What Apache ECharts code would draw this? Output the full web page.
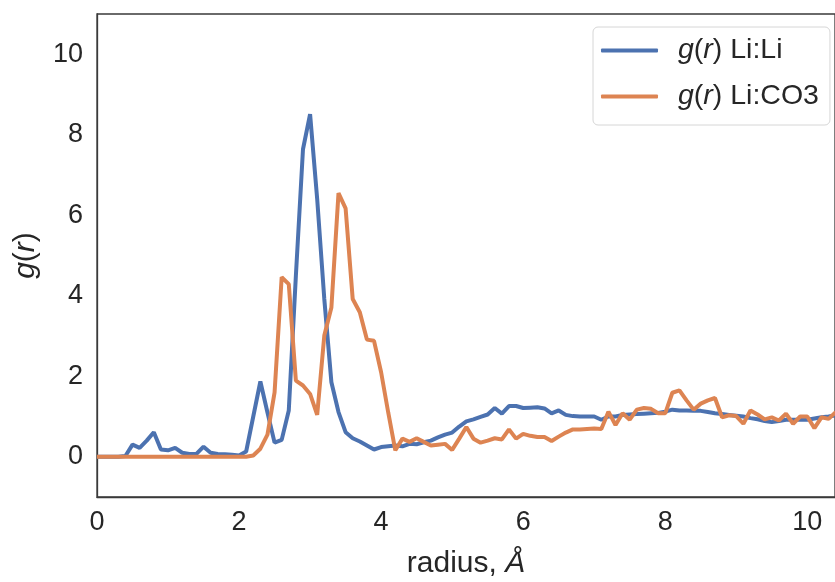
<!DOCTYPE html>
<html>
<head>
<meta charset="utf-8">
<script src="https://cdn.jsdelivr.net/npm/echarts@6/dist/echarts.min.js"></script>
<style>html,body{margin:0;padding:0;background:#fff}#c{width:835px;height:582px}</style>
</head>
<body>
<div id="c"></div>
<script>
var radius = [0.0,0.1,0.2,0.3,0.4,0.5,0.6,0.7,0.8,0.9,1.0,1.1,1.2,1.3,1.4,1.5,1.6,1.7,1.8,1.9,
2.0,2.1,2.2,2.3,2.4,2.5,2.6,2.7,2.8,2.9,3.0,3.1,3.2,3.3,3.4,3.5,3.6,3.7,3.8,3.9,
4.0,4.1,4.2,4.3,4.4,4.5,4.6,4.7,4.8,4.9,5.0,5.1,5.2,5.3,5.4,5.5,5.6,5.7,5.8,5.9,
6.0,6.1,6.2,6.3,6.4,6.5,6.6,6.7,6.8,6.9,7.0,7.1,7.2,7.3,7.4,7.5,7.6,7.7,7.8,7.9,
8.0,8.1,8.2,8.3,8.4,8.5,8.6,8.7,8.8,8.9,9.0,9.1,9.2,9.3,9.4,9.5,9.6,9.7,9.8,9.9,
10.0,10.1,10.2,10.3,10.4];
var gLiLi = [0,0,0,0,0.02,0.3,0.22,0.4,0.61,0.18,0.16,0.22,0.1,0.07,0.07,0.25,0.1,0.07,0.06,0.05,
0.03,0.13,1.0,1.87,1.1,0.35,0.42,1.15,4.5,7.64,8.51,6.4,3.92,1.85,1.11,0.61,0.46,0.38,0.28,0.18,
0.24,0.26,0.28,0.26,0.32,0.31,0.36,0.4,0.48,0.55,0.6,0.75,0.88,0.93,0.99,1.05,1.21,1.07,1.26,1.26,
1.21,1.22,1.23,1.2,1.08,1.15,1.04,1.01,1.0,1.0,1.0,0.92,1.0,1.0,1.04,1.05,1.06,1.07,1.08,1.09,
1.12,1.17,1.15,1.15,1.14,1.14,1.11,1.08,1.06,1.04,1.02,1.0,0.96,0.93,0.89,0.86,0.89,0.92,0.92,0.92,
0.92,0.95,0.98,1.0,1.03];
var gLiCO3 = [0,0,0,0,0,0,0,0,0,0,0,0,0,0,0,0,0,0,0,0,
0,0,0.03,0.2,0.55,1.6,4.46,4.29,1.89,1.77,1.56,1.04,3.01,3.71,6.55,6.17,3.92,3.59,2.91,2.88,
2.1,1.1,0.16,0.45,0.37,0.46,0.37,0.28,0.3,0.32,0.17,0.45,0.74,0.45,0.35,0.4,0.46,0.43,0.68,0.45,
0.57,0.52,0.49,0.49,0.39,0.5,0.6,0.68,0.68,0.69,0.7,0.69,1.12,0.79,1.08,0.92,1.17,1.21,1.19,1.08,
1.08,1.59,1.65,1.4,1.17,1.32,1.4,1.46,0.98,1.03,1.01,0.82,1.15,1.05,0.93,0.98,0.9,1.07,0.82,1.0,
1.0,0.71,0.98,0.94,1.11];
var xTicks = [0,2,4,6,8,10];
var yTicks = [0,2,4,6,8,10];
var seriesNames = ['Li:Li','Li:CO3'];

function pairs(ys){ return radius.map(function(r,i){ return [r, ys[i]]; }); }
var FONT = '"Liberation Sans", Arial, sans-serif';
var TXT = '#262626';

var chart = echarts.init(document.getElementById('c'), null, {renderer:'canvas'});
chart.setOption({
  animation:false,
  backgroundColor:'#fff',
  grid:{left:97, top:14, right:0, bottom:85, outerBoundsMode:'none', containLabel:false, show:true, borderColor:'#3a3a3a', borderWidth:1.3, backgroundColor:'transparent'},
  legend:{
    left:593, top:27, orient:'vertical',
    padding:[9,11,14,8], itemGap:17,
    borderColor:'#d6d6d6', borderWidth:1, borderRadius:5, backgroundColor:'rgba(255,255,255,0.8)',
    icon:'roundRect', itemWidth:57, itemHeight:4,
    data:seriesNames,
    formatter:function(n){ return '{i|g}{n|(}{i|r}{n|) '+n+'}'; },
    textStyle:{
      color:TXT, fontFamily:FONT, fontSize:28.5, padding:[0,0,0,15],
      rich:{ i:{fontStyle:'italic', fontSize:28.5, fontFamily:FONT, color:TXT, lineHeight:32}, n:{fontSize:28.5, fontFamily:FONT, color:TXT, lineHeight:32} }
    }
  },
  xAxis:{
    type:'value', min:0, max:10.39, interval:1,
    name:'radius, {i|Å}', nameLocation:'middle', nameGap:52,
    nameTextStyle:{color:TXT, fontFamily:FONT, fontSize:30, rich:{i:{fontStyle:'italic', fontFamily:FONT, fontSize:30, color:TXT}}},
    axisLine:{show:true, onZero:false, lineStyle:{color:'#3a3a3a', width:1.3}},
    axisTick:{show:false}, splitLine:{show:false},
    axisLabel:{color:TXT, fontFamily:FONT, fontSize:27, margin:12,
      formatter:function(v){ return xTicks.indexOf(Math.round(v*100)/100)>=0 ? String(Math.round(v)) : ''; }}
  },
  yAxis:{
    type:'value', min:-1, max:11, interval:1,
    name:'{i|g}({i|r})', nameLocation:'middle', nameGap:56,
    nameTextStyle:{color:TXT, fontFamily:FONT, fontSize:30, rich:{i:{fontStyle:'italic', fontFamily:FONT, fontSize:30, color:TXT}}},
    axisLine:{show:true, onZero:false, lineStyle:{color:'#3a3a3a', width:1.3}},
    axisTick:{show:false}, splitLine:{show:false},
    axisLabel:{color:TXT, fontFamily:FONT, fontSize:27, margin:14,
      formatter:function(v){ return yTicks.indexOf(v)>=0 ? String(v) : ''; }}
  },
  series:[
    {name:seriesNames[0], type:'line', data:pairs(gLiLi), showSymbol:false, symbol:'none', lineStyle:{color:'#4c72b0', width:4}, itemStyle:{color:'#4c72b0'}, z:2},
    {name:seriesNames[1], type:'line', data:pairs(gLiCO3), showSymbol:false, symbol:'none', lineStyle:{color:'#dd8452', width:4}, itemStyle:{color:'#dd8452'}, z:3}
  ]
});
</script>
</body>
</html>
